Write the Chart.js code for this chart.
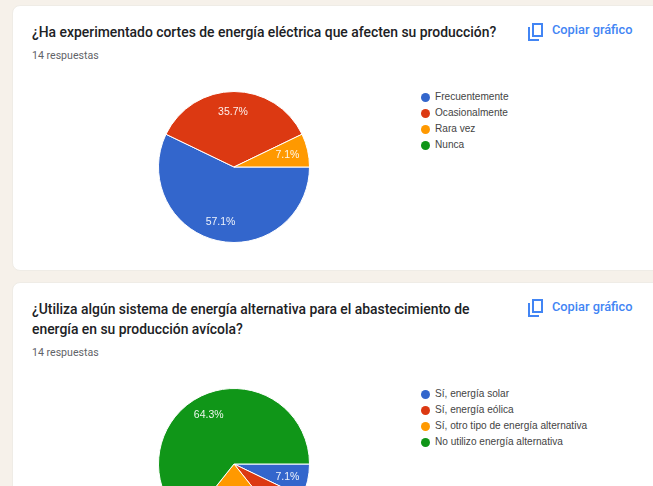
<!DOCTYPE html>
<html lang="es">
<head>
<meta charset="utf-8">
<title>Respuestas</title>
<script src="https://cdn.jsdelivr.net/npm/chart.js@4/dist/chart.umd.min.js"></script>
<style>
    html, body { margin: 0; padding: 0; width: 653px; height: 486px; overflow: hidden; background: #f6f1ea; }
    body { position: relative; font-family: Roboto, sans-serif; filter: blur(0.35px); }
    .card { position: absolute; left: 12px; width: 700px; background: #fff; border: 1px solid #efece6; border-radius: 8px; box-sizing: border-box; }
    .title { position: absolute; left: 19px; width: 470px; color: #202124; font-size: 13.9px; font-weight: 500; line-height: 20px; }
    .count { position: absolute; left: 19px; color: #5f6368; font-size: 10.6px; line-height: 14px; }
    .copy { position: absolute; left: 539px; color: #4285f4; font-size: 12.8px; font-weight: 500; line-height: 16px; white-space: nowrap; }
    .copy-icon { position: absolute; left: 514px; }
    canvas { position: absolute; }
    .legend { position: absolute; left: 421px; color: #444; font-family: "Liberation Sans", Arial, sans-serif; font-size: 10.1px; }
    .legend div { position: relative; height: 16px; line-height: 16px; padding-left: 14px; white-space: nowrap; }
    .legend i { position: absolute; left: 0; top: 3.5px; width: 9px; height: 9px; border-radius: 50%; }
</style>
</head>
<body>
<div class="card" style="top:5px;height:266px">
    <div class="title" style="top:16px;white-space:nowrap" id="title1"></div>
    <div class="count" style="top:43px" id="count1"></div>
    <svg class="copy-icon" style="top:16px" width="17" height="19" viewBox="0 0 17 19"><path fill="none" stroke="#4285f4" stroke-width="2" d="M6 2h9v12H6zM2 5v13h10"/></svg>
    <div class="copy" style="top:16px" id="copy1"></div>
</div>
<div class="card" style="top:282px;height:300px">
    <div class="title" style="top:16px" id="title2"></div>
    <div class="count" style="top:63px" id="count2"></div>
    <svg class="copy-icon" style="top:15px" width="17" height="19" viewBox="0 0 17 19"><path fill="none" stroke="#4285f4" stroke-width="2" d="M6 2h9v12H6zM2 5v13h10"/></svg>
    <div class="copy" style="top:16px" id="copy2"></div>
</div>
<canvas id="pie1" width="200" height="200" style="left:134px;top:67px"></canvas>
<canvas id="pie2" width="200" height="200" style="left:134px;top:364px"></canvas>
<div class="legend" style="top:89px" id="legend1"></div>
<div class="legend" style="top:386px" id="legend2"></div>
<script>
const colors = ['#3366cc', '#dc3912', '#ff9900', '#109618'];
const copyText = 'Copiar gráfico';
const countText = '14 respuestas';

const title1 = '¿Ha experimentado cortes de energía eléctrica que afecten su producción?';
const labels1 = ['Frecuentemente', 'Ocasionalmente', 'Rara vez', 'Nunca'];
const values1 = [8, 5, 1, 0];
const percents1 = ['57.1%', '35.7%', '7.1%', ''];

const title2 = '¿Utiliza algún sistema de energía alternativa para el abastecimiento de energía en su producción avícola?';
const labels2 = ['Sí, energía solar', 'Sí, energía eólica', 'Sí, otro tipo de energía alternativa', 'No utilizo energía alternativa'];
const values2 = [1, 1, 3, 9];
const percents2 = ['7.1%', '7.1%', '21.4%', '64.3%'];

// draws the percent text inside each slice
const sliceLabels = {
    id: 'sliceLabels',
    afterDatasetsDraw(chart, args, opts) {
        const ctx = chart.ctx;
        ctx.save();
        ctx.font = '10.5px "Liberation Sans", Arial, sans-serif';
        ctx.fillStyle = 'rgba(255,255,255,0.92)';
        ctx.textAlign = 'center';
        ctx.textBaseline = 'middle';
        chart.getDatasetMeta(0).data.forEach((arc, i) => {
            if (!opts.texts[i]) return;
            const mid = (arc.startAngle + arc.endAngle) / 2;
            const r = arc.outerRadius * 0.74;
            ctx.fillText(opts.texts[i], arc.x - 1 + Math.cos(mid) * r, arc.y + 1 + Math.sin(mid) * r);
        });
        ctx.restore();
    }
};

function makePie(id, labels, values, percents) {
    return new Chart(document.getElementById(id).getContext('2d'), {
        type: 'pie',
        data: {
            labels: labels,
            datasets: [{ data: values, backgroundColor: colors, borderColor: '#fff', borderWidth: 1 }]
        },
        options: {
            responsive: false,
            animation: false,
            rotation: 90,
            layout: { padding: 24 },
            plugins: {
                legend: { display: false },
                tooltip: { enabled: false },
                sliceLabels: { texts: percents }
            }
        },
        plugins: [sliceLabels]
    });
}

function fillLegend(id, labels) {
    const el = document.getElementById(id);
    labels.forEach((label, i) => {
        const row = document.createElement('div');
        row.innerHTML = `<i style="background:${colors[i]}"></i>${label}`;
        el.appendChild(row);
    });
}

document.getElementById('title1').innerText = title1;
document.getElementById('title2').innerText = title2;
document.getElementById('count1').innerText = countText;
document.getElementById('count2').innerText = countText;
document.getElementById('copy1').innerText = copyText;
document.getElementById('copy2').innerText = copyText;

makePie('pie1', labels1, values1, percents1);
makePie('pie2', labels2, values2, percents2);
fillLegend('legend1', labels1);
fillLegend('legend2', labels2);
</script>
</body>
</html>
